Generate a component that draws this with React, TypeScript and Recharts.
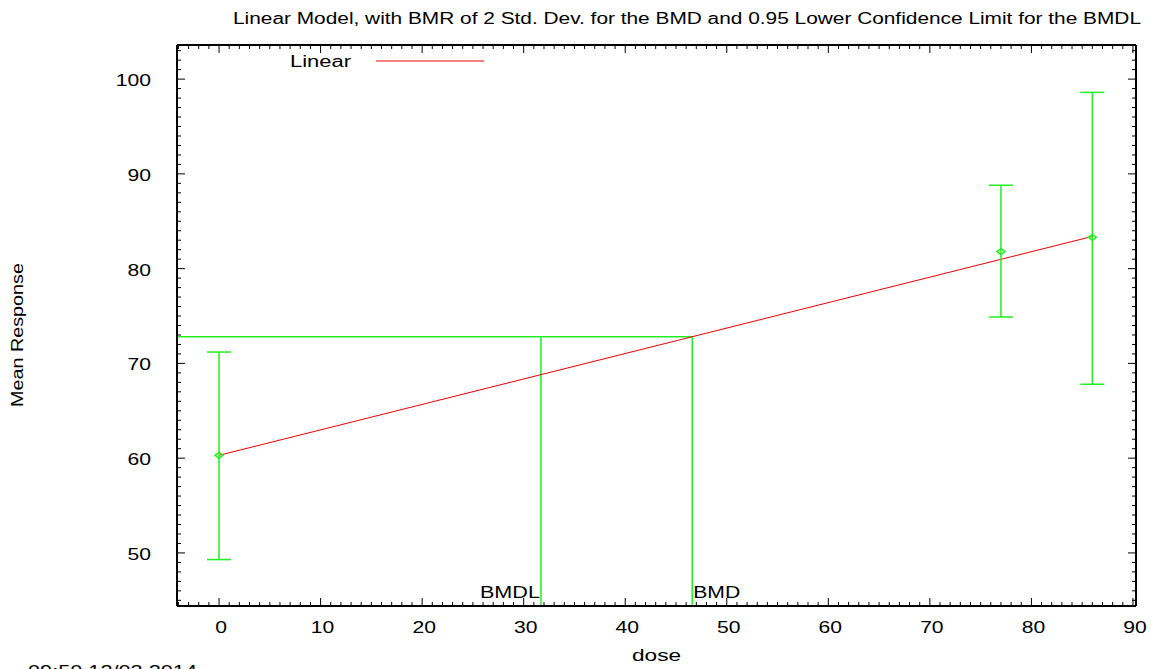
import React from 'react';
import {
  ComposedChart,
  Scatter,
  Line,
  XAxis,
  YAxis,
  ErrorBar,
  ReferenceLine,
  Legend,
  Customized,
} from 'recharts';

// ---- data ----
const doses = [0, 77, 86];
const means = [60.3, 81.8, 83.3];
const lowerLimits = [49.3, 74.9, 67.8];
const upperLimits = [71.2, 88.8, 98.6];

const fitDoses = [0, 86];
const fitValues = [60.3, 83.4];

const bmdl = 31.7;
const bmd = 46.6;
const bmrResponse = 72.8;

const xMajorTicks = [0, 10, 20, 30, 40, 50, 60, 70, 80, 90];
const yMajorTicks = [50, 60, 70, 80, 90, 100];

const X_DOMAIN: [number, number] = [-4.14, 90.3];
const Y_DOMAIN: [number, number] = [44.4, 103.6];

const titleText =
  'Linear Model, with BMR of 2 Std. Dev. for the BMD and 0.95 Lower Confidence Limit for the BMDL';
const xLabelText = 'dose';
const yLabelText = 'Mean Response';
const legendText = 'Linear';
const timestampText = '09:50 12/03 2014';

// ---- derived tables ----
const range = (a: number, b: number) => {
  const out: number[] = [];
  for (let i = a; i <= b; i++) out.push(i);
  return out;
};
const xMinorTicks = range(Math.ceil(X_DOMAIN[0]), Math.floor(X_DOMAIN[1]));
const yMinorTicks = range(Math.ceil(Y_DOMAIN[0]), Math.floor(Y_DOMAIN[1]));

const pointData = doses.map((d, i) => ({
  dose: d,
  mean: means[i],
  err: [means[i] - lowerLimits[i], upperLimits[i] - means[i]],
}));
const fitData = fitDoses.map((d, i) => ({ dose: d, fit: fitValues[i] }));

const GREEN = '#22ee22';
const RED = '#ee0000';
const FONT = '"Liberation Sans", Arial, sans-serif';
const FS = 16;
const STRETCH = 1.32;

const isMajorX = (v: number) => xMajorTicks.includes(v);
const isMajorY = (v: number) => yMajorTicks.includes(v);

const StretchText = ({ x, y, anchor = 'start', children }: any) => (
  <text
    transform={`translate(${x} ${y}) scale(${STRETCH} 1)`}
    x={0}
    y={0}
    textAnchor={anchor}
    fontFamily={FONT}
    fontSize={FS}
    fill="#000"
  >
    {children}
  </text>
);

const FitText = ({ x, y, w, anchor = 'start', rotate, children }: any) => (
  <text
    x={x}
    y={y}
    textLength={w}
    lengthAdjust="spacingAndGlyphs"
    textAnchor={anchor}
    fontFamily={FONT}
    fontSize={FS}
    fill="#000"
    transform={rotate ? `rotate(${rotate}, ${x}, ${y})` : undefined}
  >
    {children}
  </text>
);

const BottomTick = (p: any) => {
  const v = p.payload.value;
  const major = isMajorX(v);
  return (
    <g>
      <line x1={p.x} x2={p.x} y1={p.y} y2={p.y - (major ? 8 : 4)} stroke="#000" strokeWidth={1} />
      {major && (
        <StretchText x={p.x + 2} y={p.y + 27} anchor="middle">
          {v}
        </StretchText>
      )}
    </g>
  );
};
const TopTick = (p: any) => {
  const v = p.payload.value;
  const major = isMajorX(v);
  return <line x1={p.x} x2={p.x} y1={p.y} y2={p.y + (major ? 8 : 4)} stroke="#000" strokeWidth={1} />;
};
const LeftTick = (p: any) => {
  const v = p.payload.value;
  const major = isMajorY(v);
  return (
    <g>
      <line x1={p.x} x2={p.x + (major ? 8 : 4)} y1={p.y} y2={p.y} stroke="#000" strokeWidth={1} />
      {major && (
        <StretchText x={p.x - 26} y={p.y + 7} anchor="end">
          {v}
        </StretchText>
      )}
    </g>
  );
};
const RightTick = (p: any) => {
  const v = p.payload.value;
  const major = isMajorY(v);
  return <line x1={p.x} x2={p.x - (major ? 8 : 4)} y1={p.y} y2={p.y} stroke="#000" strokeWidth={1} />;
};

const Marker = (p: any) => {
  const { cx, cy } = p;
  return (
    <path
      d={`M${cx - 4},${cy} L${cx},${cy - 3} L${cx + 4},${cy} L${cx},${cy + 3} Z`}
      fill="none"
      stroke={GREEN}
      strokeWidth={1.5}
    />
  );
};

const LegendContent = () => (
  <svg width={200} height={22} style={{ display: 'block', overflow: 'visible' }}>
    <text
      x={0}
      y={16}
      textLength={61}
      lengthAdjust="spacingAndGlyphs"
      fontFamily={FONT}
      fontSize={FS}
      fill="#000"
    >
      {legendText}
    </text>
    <line x1={86} x2={194} y1={10} y2={10} stroke={RED} strokeWidth={1} />
  </svg>
);

const Texts = () => (
  <g>
    <FitText x={233} y={24} w={908}>
      {titleText}
    </FitText>
    <FitText x={632} y={661} w={49}>
      {xLabelText}
    </FitText>
    <FitText x={23} y={407} w={144} rotate={-90}>
      {yLabelText}
    </FitText>
    <FitText x={28} y={677} w={169}>
      {timestampText}
    </FitText>
  </g>
);

const axisLineStyle = { stroke: '#000', strokeWidth: 2 };

export default function App() {
  return (
    <div style={{ position: 'absolute', left: 0, top: 0, width: 1157, height: 669, background: '#fff' }}>
      <ComposedChart
        width={1157}
        height={669}
        margin={{ top: 44, right: 20, bottom: 62, left: 176 }}
      >
        <XAxis
          xAxisId={0}
          type="number"
          dataKey="dose"
          domain={X_DOMAIN}
          allowDataOverflow
          ticks={xMinorTicks}
          interval={0}
          orientation="bottom"
          height={1}
          tickSize={0}
          tickMargin={0}
          tickLine={false}
          tick={BottomTick}
          axisLine={axisLineStyle}
        />
        <XAxis
          xAxisId="top"
          type="number"
          dataKey="dose"
          domain={X_DOMAIN}
          allowDataOverflow
          ticks={xMinorTicks}
          interval={0}
          orientation="top"
          height={1}
          tickSize={0}
          tickMargin={0}
          tickLine={false}
          tick={TopTick}
          axisLine={axisLineStyle}
        />
        <YAxis
          yAxisId={0}
          type="number"
          domain={Y_DOMAIN}
          allowDataOverflow
          ticks={yMinorTicks}
          interval={0}
          orientation="left"
          width={1}
          tickSize={0}
          tickMargin={0}
          tickLine={false}
          tick={LeftTick}
          axisLine={axisLineStyle}
        />
        <YAxis
          yAxisId="right"
          type="number"
          domain={Y_DOMAIN}
          allowDataOverflow
          ticks={yMinorTicks}
          interval={0}
          orientation="right"
          width={1}
          tickSize={0}
          tickMargin={0}
          tickLine={false}
          tick={RightTick}
          axisLine={axisLineStyle}
        />
        <ReferenceLine
          segment={[
            { x: X_DOMAIN[0], y: bmrResponse },
            { x: bmd, y: bmrResponse },
          ]}
          stroke={GREEN}
          strokeWidth={1.5}
          ifOverflow="visible"
        />
        <ReferenceLine
          segment={[
            { x: bmdl, y: bmrResponse },
            { x: bmdl, y: Y_DOMAIN[0] },
          ]}
          stroke={GREEN}
          strokeWidth={1.5}
          ifOverflow="visible"
          label={(lp: any) => {
            const vb = lp.viewBox;
            return (
              <text
                x={vb.x - 1}
                y={vb.y + vb.height - 8}
                textAnchor="end"
                textLength={60}
                lengthAdjust="spacingAndGlyphs"
                fontFamily={FONT}
                fontSize={FS}
                fill="#000"
              >
                BMDL
              </text>
            );
          }}
        />
        <ReferenceLine
          segment={[
            { x: bmd, y: bmrResponse },
            { x: bmd, y: Y_DOMAIN[0] },
          ]}
          stroke={GREEN}
          strokeWidth={1.5}
          ifOverflow="visible"
          label={(lp: any) => {
            const vb = lp.viewBox;
            return (
              <text
                x={vb.x + 1}
                y={vb.y + vb.height - 8}
                textAnchor="start"
                textLength={47}
                lengthAdjust="spacingAndGlyphs"
                fontFamily={FONT}
                fontSize={FS}
                fill="#000"
              >
                BMD
              </text>
            );
          }}
        />
        <Line
          data={fitData}
          dataKey="fit"
          stroke={RED}
          strokeWidth={1}
          dot={false}
          activeDot={false}
          isAnimationActive={false}
          legendType="line"
          name={legendText}
        />
        <Scatter
          data={pointData}
          dataKey="mean"
          shape={Marker}
          isAnimationActive={false}
          legendType="none"
        >
          <ErrorBar dataKey="err" direction="y" width={12} stroke={GREEN} strokeWidth={1.5} isAnimationActive={false} />
        </Scatter>
        <Legend
          layout="horizontal"
          verticalAlign="middle"
          align="center"
          content={LegendContent}
          wrapperStyle={{ left: 290, top: 51, width: 200, height: 22 }}
        />
        <Customized component={<Texts />} />
      </ComposedChart>
    </div>
  );
}
